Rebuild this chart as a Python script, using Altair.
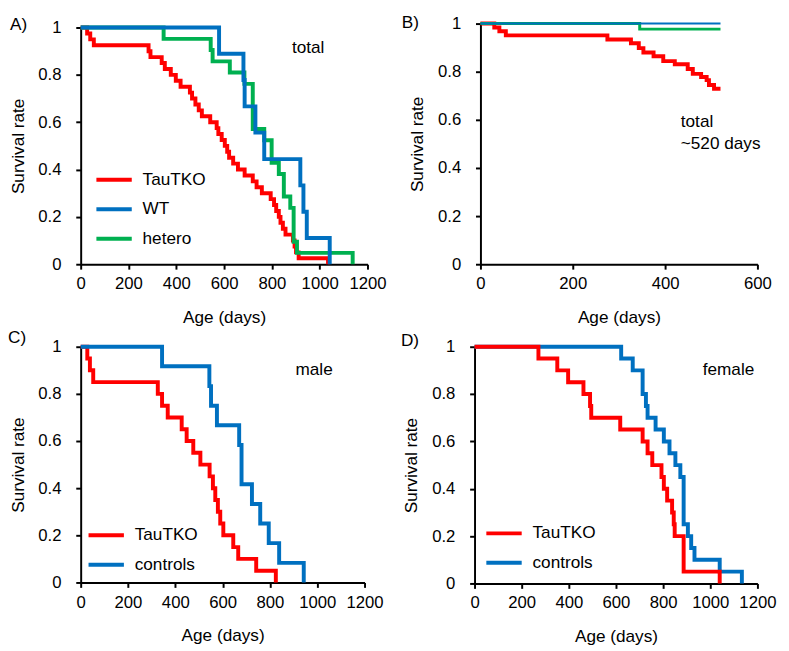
import altair as alt
import pandas as pd

FONT = "Liberation Sans"
RED = "#FF0000"
BLUE = "#0070C0"
GREEN = "#00B050"

# ---------------- data ----------------
# Panel A: total
A_tko_age = [0, 27, 40, 55, 284, 292, 339, 352, 377, 398, 418, 457, 466, 480, 494, 507, 542, 569, 576, 590,
             603, 613, 621, 638, 658, 686, 720, 736, 758, 795, 809, 818, 829, 836, 846, 857, 888, 895, 901, 912, 1035]
A_tko_surv = [1, 0.975, 0.95, 0.925, 0.9, 0.875, 0.85, 0.825, 0.8, 0.775, 0.75, 0.725, 0.7, 0.675, 0.65, 0.625,
              0.6, 0.575, 0.55, 0.525, 0.5, 0.475, 0.45, 0.425, 0.4, 0.375, 0.35, 0.325, 0.3, 0.275, 0.25, 0.225,
              0.2, 0.175, 0.15, 0.125, 0.1, 0.075, 0.05, 0.025, 0]
A_wt_age = [0, 579, 681, 686, 731, 768, 919, 932, 946, 1042]
A_wt_surv = [1, 0.889, 0.778, 0.667, 0.556, 0.444, 0.333, 0.222, 0.111, 0]
A_het_age = [0, 347, 544, 552, 624, 685, 720, 768, 799, 829, 850, 877, 891, 905, 1138]
A_het_surv = [1, 0.952, 0.905, 0.857, 0.810, 0.762, 0.571, 0.524, 0.429, 0.381, 0.286, 0.238, 0.095, 0.048, 0]

# Panel B: total ~520 days
B_tko_age = [0, 30, 41, 55, 275, 326, 343, 353, 375, 396, 421, 449, 460, 478, 490, 495, 506, 520]
B_tko_surv = [1, 0.984, 0.968, 0.951, 0.934, 0.918, 0.898, 0.880, 0.864, 0.844, 0.831, 0.811, 0.791, 0.778,
              0.765, 0.745, 0.729, 0.729]
B_wt_age = [0, 520]
B_wt_surv = [1, 1]
B_het_age = [0, 345, 520]
B_het_surv = [1, 0.977, 0.977]

# Panel C: male
C_tko_age = [0, 28, 39, 53, 326, 344, 368, 427, 448, 476, 506, 545, 559, 569, 580, 590, 603, 645, 666, 742, 825]
C_tko_surv = [1, 0.95, 0.9, 0.85, 0.8, 0.75, 0.7, 0.65, 0.6, 0.55, 0.5, 0.45, 0.4, 0.35, 0.3, 0.25, 0.2,
              0.15, 0.1, 0.05, 0]
C_ctl_age = [0, 344, 544, 551, 576, 670, 680, 724, 759, 795, 839, 943]
C_ctl_surv = [1, 0.917, 0.833, 0.75, 0.667, 0.583, 0.417, 0.333, 0.25, 0.167, 0.083, 0]

# Panel D: female
D_tko_age = [0, 271, 351, 397, 462, 490, 495, 618, 713, 734, 754, 793, 803, 817, 838, 845, 849, 887, 1040]
D_tko_surv = [1, 0.95, 0.9, 0.85, 0.8, 0.75, 0.7, 0.65, 0.6, 0.55, 0.5, 0.45, 0.4, 0.35, 0.3, 0.25, 0.2,
              0.05, 0]
D_ctl_age = [0, 622, 671, 713, 727, 734, 768, 803, 827, 852, 873, 887, 905, 919, 933, 1040, 1134]
D_ctl_surv = [1, 0.95, 0.9, 0.8, 0.75, 0.7, 0.65, 0.6, 0.55, 0.5, 0.45, 0.25, 0.2, 0.15, 0.1, 0.05, 0]

X_TICKS_LONG = [0, 200, 400, 600, 800, 1000, 1200]
X_TICKS_SHORT = [0, 200, 400, 600]
Y_TICKS = [0, 0.2, 0.4, 0.6, 0.8, 1]

NOTES = {
    "A": {"age": [884], "surv": [0.912], "label": ["total"]},
    "B": {"age": [434, 434], "surv": [0.589, 0.50], "label": ["total", "~520 days"]},
    "C": {"age": [908], "surv": [0.9], "label": ["male"]},
    "D": {"age": [968], "surv": [0.9], "label": ["female"]},
}


def series_df(ages, survs, name):
    return pd.DataFrame({"age": ages, "surv": survs, "group": [name] * len(ages)})


def panel(series, names, colors, xmax, xticks, width, height, notes, letter, letter_xy,
          xrange=None, yrange=None, y_offset=None, legend_xy=None):
    xs = dict(domain=[0, xmax], nice=False, zero=False)
    if xrange is not None:
        xs["range"] = xrange
    ys = dict(domain=[0, 1], nice=False, zero=False)
    if yrange is not None:
        ys["range"] = yrange
    x_enc = alt.X("age:Q", scale=alt.Scale(**xs),
                  axis=alt.Axis(values=xticks, format="d", title="Age (days)", labelFlush=False,
                                labelPadding=7, titlePadding=17))
    yax = dict(values=Y_TICKS, format=".1~f", title="Survival rate", labelFlush=False,
               labelPadding=15, titlePadding=11)
    if y_offset is not None:
        yax["offset"] = y_offset
    y_enc = alt.Y("surv:Q", scale=alt.Scale(**ys), axis=alt.Axis(**yax))
    if legend_xy is not None:
        legend = alt.Legend(orient="none", legendX=legend_xy[0], legendY=legend_xy[1], title=None,
                            symbolType="M-1.2,0H1.2", symbolSize=900, symbolStrokeWidth=4,
                            labelFont=FONT, labelFontSize=17.5, labelColor="black",
                            labelOffset=12, rowPadding=4, padding=0)
    else:
        legend = None
    color_enc = alt.Color("group:N", scale=alt.Scale(domain=names, range=colors), legend=legend)

    layers = []
    for df, w in series:
        layers.append(
            alt.Chart(df).mark_line(interpolate="step-after", strokeWidth=w, strokeJoin="miter")
            .encode(x=x_enc, y=y_enc, color=color_enc)
        )
    layers.append(
        alt.Chart(pd.DataFrame(notes)).mark_text(align="left", baseline="middle", font=FONT,
                                                 fontSize=17.5, color="black")
        .encode(x="age:Q", y="surv:Q", text="label:N")
    )
    layers.append(
        alt.Chart(pd.DataFrame({"t": [letter]})).mark_text(align="left", baseline="middle", font=FONT,
                                                           fontSize=17.5, color="black")
        .encode(x=alt.value(letter_xy[0]), y=alt.value(letter_xy[1]), text="t:N")
    )
    return alt.layer(*layers).properties(width=width, height=height)


A = panel(
    [(series_df(A_tko_age, A_tko_surv, "TauTKO"), 4),
     (series_df(A_het_age, A_het_surv, "hetero"), 4),
     (series_df(A_wt_age, A_wt_surv, "WT"), 4)],
    ["TauTKO", "WT", "hetero"], [RED, BLUE, GREEN], 1200, X_TICKS_LONG, 292, 245, NOTES["A"],
    "A)", (-72, 2), yrange=[245, 4], legend_xy=(17, 142))

B = panel(
    [(series_df(B_tko_age, B_tko_surv, "TauTKO"), 4),
     (series_df(B_het_age, B_het_surv, "hetero"), 3),
     (series_df(B_wt_age, B_wt_surv, "WT"), 2)],
    ["TauTKO", "WT", "hetero"], [RED, BLUE, GREEN], 600, X_TICKS_SHORT, 288, 245, NOTES["B"],
    "B)", (-74, -1), xrange=[6, 288], y_offset=-6)

C = panel(
    [(series_df(C_tko_age, C_tko_surv, "TauTKO"), 4),
     (series_df(C_ctl_age, C_ctl_surv, "controls"), 4)],
    ["TauTKO", "controls"], [RED, BLUE], 1200, X_TICKS_LONG, 289, 240, NOTES["C"],
    "C)", (-74, -9), legend_xy=(9, 175))

D = panel(
    [(series_df(D_ctl_age, D_ctl_surv, "controls"), 4),
     (series_df(D_tko_age, D_tko_surv, "TauTKO"), 4)],
    ["TauTKO", "controls"], [RED, BLUE], 1200, X_TICKS_LONG, 288, 241, NOTES["D"],
    "D)", (-75, -6), legend_xy=(13, 173))

chart = (
    alt.concat(A, B, C, D, columns=2, spacing={"row": 84, "column": 109}, bounds="flush")
    .resolve_scale(color="independent")
    .properties(padding={"left": 0, "top": 0, "right": 5, "bottom": 5})
    .configure_view(stroke=None)
    .configure_axis(domainColor="black", domainWidth=2, tickColor="black", tickWidth=2, tickSize=5,
                    labelFont=FONT, labelFontSize=17, labelColor="black", titleFont=FONT,
                    titleFontSize=17.5, titleFontWeight="normal", titleColor="black", grid=False)
)

chart.save("out.html", embed_options={"renderer": "svg", "actions": False})
